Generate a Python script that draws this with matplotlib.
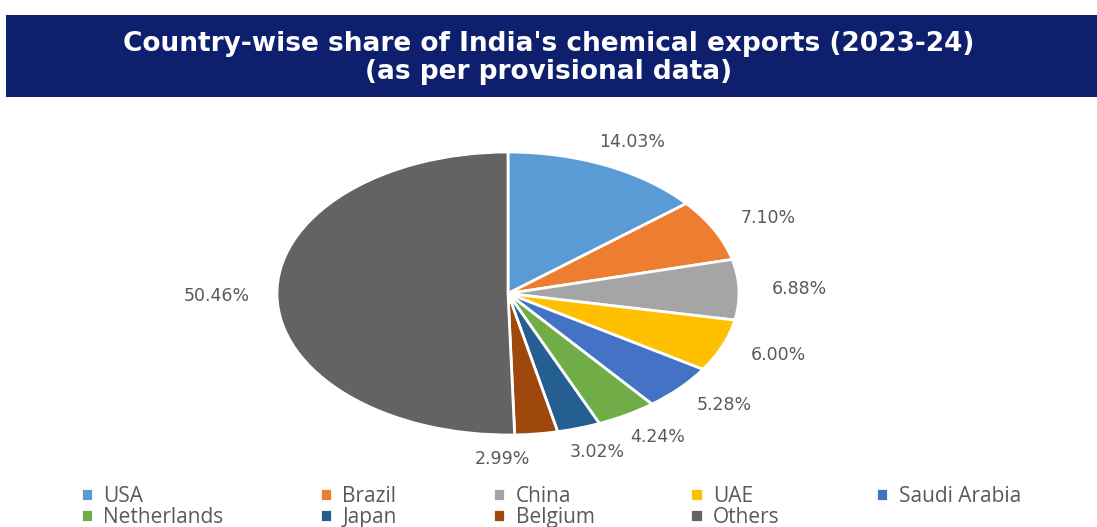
import numpy as np
import matplotlib.pyplot as plt
from matplotlib.patches import Rectangle

# share of India's chemical exports, 2023-24 (provisional)
countries = ['USA', 'Brazil', 'China', 'UAE', 'Saudi Arabia',
             'Netherlands', 'Japan', 'Belgium', 'Others']
shares = [14.03, 7.10, 6.88, 6.00, 5.28, 4.24, 3.02, 2.99, 50.46]
colors = ['#5B9BD5', '#ED7D31', '#A5A5A5', '#FFC000', '#4472C4',
          '#70AD47', '#255E91', '#9E480E', '#636363']
title_lines = ["Country-wise share of India's chemical exports (2023-24)",
               "(as per provisional data)"]

W, H = 1097, 527
fig = plt.figure(figsize=(W / 100, H / 100), dpi=100)

# navy title banner
fig.patches.append(Rectangle((6 / W, 1 - 97 / H), 1 - 6 / W, 82 / H,
                             transform=fig.transFigure,
                             facecolor='#0E1F6E', edgecolor='none'))
for yy, line in zip([44, 72], title_lines):
    fig.text(0.5, 1 - yy / H, line, color='white', fontsize=19,
             family='DejaVu Sans', fontweight='bold', ha='center', va='center')

# pie is stretched sideways in the original, so use a wide axes with auto aspect
ax = fig.add_axes([277 / W, 92 / H, 462 / W, 283 / H])
wedges, _ = ax.pie(shares, colors=colors, startangle=90, counterclock=False,
                   wedgeprops=dict(edgecolor='white', linewidth=2))
ax.set_aspect('auto')
ax.set_xlim(-1, 1)
ax.set_ylim(-1, 1)

# percentage labels sit outside the slices
nudge = {'Belgium': -30}
for w, name, val in zip(wedges, countries, shares):
    ang = np.deg2rad((w.theta1 + w.theta2) / 2)
    x, y = 1.26 * np.cos(ang), 1.18 * np.sin(ang)
    ax.annotate(f'{val:.2f}%', (x, y), xytext=(nudge.get(name, 0), 0),
                textcoords='offset points', ha='center', va='center',
                family='DejaVu Sans', fontsize=12.5, color='#595959',
                annotation_clip=False)

# legend laid out row by row like the original
order = [0, 5, 1, 6, 2, 7, 3, 8, 4]
fig.legend([wedges[i] for i in order], [countries[i] for i in order],
           ncol=5, loc='center', bbox_to_anchor=(0.502, 1 - 507 / H),
           frameon=False, handlelength=0.6, handleheight=0.6,
           handletextpad=0.5, columnspacing=4.6, labelspacing=0.0,
           prop={'family': 'Open Sans', 'size': 15}, labelcolor='#595959')

fig.savefig('out.png', dpi=100)
